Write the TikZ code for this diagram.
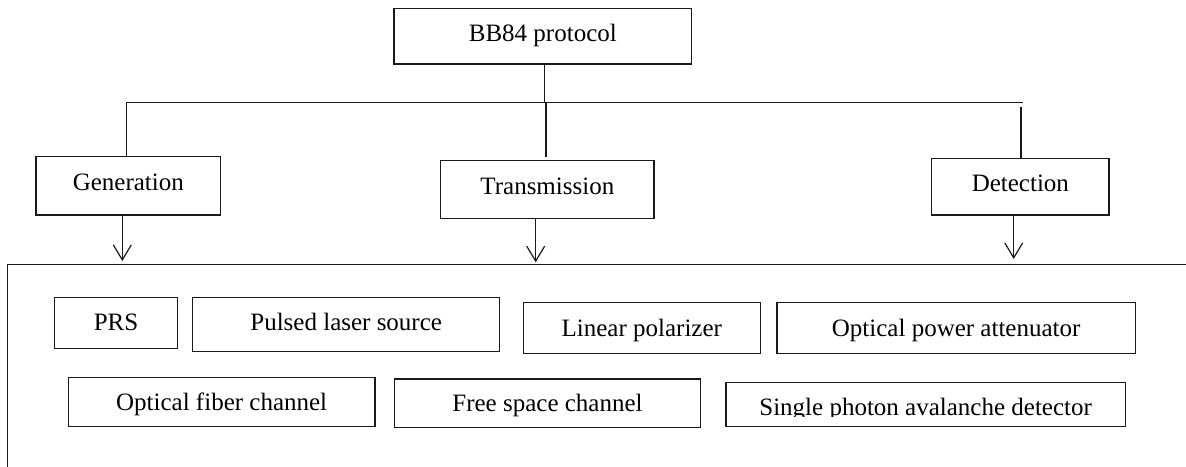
\documentclass[tikz,border=0pt]{standalone}
\usepackage{fontspec}
\setmainfont{Liberation Serif}
\usetikzlibrary{arrows.meta}

\begin{document}
\begin{tikzpicture}[x=1pt,y=-1pt,
  every node/.style={font=\fontsize{25}{30}\selectfont},
  line/.style={draw=black!90, line width=1.2pt},
  box/.style={line, rectangle, inner sep=0pt, text depth=0pt, anchor=center},
  flow/.style={line, -{Straight Barb[length=15pt,width=18pt,line width=1.2pt]}}
]
\useasboundingbox (0,0) rectangle (1186,466);

% top level
\node[box, minimum width=297.7pt, minimum height=55.7pt, text height=11pt] (bb84) at (542.85,36.15) {BB84 protocol};

% three stages
\node[box, minimum width=184.7pt, minimum height=58.3pt, text height=9.8pt] (gen) at (128.35,185.85) {Generation};
\node[box, minimum width=213.3pt, minimum height=57.6pt, text height=9pt] (trans) at (547.35,189.5) {Transmission};
\node[box, minimum width=177.3pt, minimum height=56.7pt, text height=10pt] (det) at (1020.35,186.65) {Detection};

% bus joining the stages
\coordinate (busL) at (126.7,102.3);
\coordinate (busM) at (544.3,102.3);
\coordinate (busR) at (1022.7,102.3);
\coordinate (dropM) at (546,102.3);
\coordinate (dropMend) at (546,156.7);
\coordinate (dropR) at (1021,106.7);

\draw[line] (bb84.south -| busM) -- (busM);
\draw[line] (busL) -- (busR);
\draw[line] (busL) -- (busL |- gen.north);
\draw[line] (dropM) -- (dropMend);
\draw[line] (dropR) -- (dropR |- det.north);

% component frame
\coordinate (frTR) at (1186,264.3);
\coordinate (frTL) at (7.3,264.3);
\coordinate (frBL) at (7.3,470);
\draw[line] (frTR) -- (frTL) -- (frBL);

% arrows into the frame
\coordinate (genTip) at (122.3,261);
\coordinate (transTip) at (535.7,262.3);
\coordinate (detTip) at (1013.7,259);
\draw[flow] (genTip |- gen.south) -- (genTip);
\draw[flow] (transTip |- trans.south) -- (transTip);
\draw[flow] (detTip |- det.south) -- (detTip);

% components, first row
\node[box, minimum width=123.4pt, minimum height=51pt, text height=14.4pt] (prs) at (116,322.8) {PRS};
\node[box, minimum width=307pt, minimum height=54.4pt, text height=11pt] (pls) at (346.2,324.5) {Pulsed laser source};
\node[box, minimum width=237pt, minimum height=50.6pt, text height=16pt] (lin) at (641.8,328) {Linear polarizer};
\node[box, minimum width=358.3pt, minimum height=50.6pt, text height=16pt] (opa) at (956.15,328) {Optical power attenuator};

% components, second row
\node[box, minimum width=306.7pt, minimum height=49pt, text height=17pt] (ofc) at (221.65,402.2) {Optical fiber channel};
\node[box, minimum width=306.4pt, minimum height=48.7pt, text height=16.8pt] (fsc) at (547.5,403.35) {Free space channel};
\node[box, minimum width=399.3pt, minimum height=44.4pt] (spad) at (925.65,404.5) {};
\begin{scope}
  \clip (spad.north west) rectangle (1125.3,416.9);
  \node[anchor=base, inner sep=0pt] (spadtext) at (925.65,415.7) {Single photon avalanche detector};
\end{scope}
\end{tikzpicture}
\end{document}
